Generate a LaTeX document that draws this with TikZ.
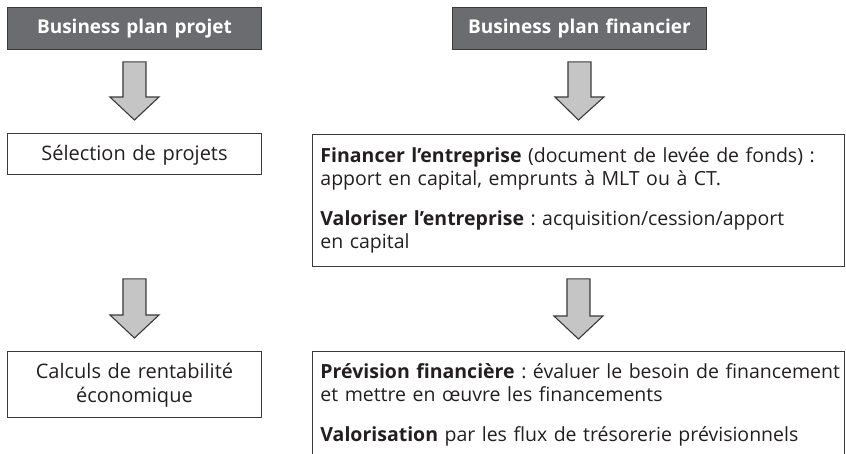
\documentclass[tikz,border=0pt]{standalone}
\usepackage{fontspec}
\setmainfont{Open Sans}
\usetikzlibrary{calc}
\frenchspacing

\definecolor{headfill}{HTML}{6B6C70}
\definecolor{edgegray}{HTML}{3A3A3A}
\definecolor{arrowgray}{HTML}{C5C5C5}
\definecolor{ink}{HTML}{231F20}

% Block arrow pointing down: shaft from #1 (top centre) to the head, tip at #2
\newcommand{\flowarrow}[2]{%
  \filldraw[flowarrow] let \p1=(#1), \p2=(#2) in
    (\x1-11.5pt,\y1) -- (\x1+11.5pt,\y1) -- (\x1+11.5pt,\y2+23pt)
    -- (\x1+24.5pt,\y2+23pt) -- (\x2,\y2) -- (\x1-24.5pt,\y2+23pt)
    -- (\x1-11.5pt,\y2+23pt) -- cycle;}

\tikzset{
  header/.style={draw=edgegray, line width=0.9pt, fill=headfill, text=white,
    font=\bfseries\fontsize{19}{23}\selectfont, anchor=north west,
    inner xsep=0pt, inner ysep=0pt, text width=254pt, align=center,
    text height=26pt, text depth=16pt},
  leftbox/.style={draw=edgegray, line width=0.9pt, text=ink,
    font=\fontsize{20}{24}\selectfont, anchor=north west,
    inner xsep=0pt, inner ysep=0pt, text width=254pt, align=center},
  rightbox/.style={draw=edgegray, line width=0.9pt, text=ink,
    font=\fontsize{19.5}{23}\selectfont, anchor=north west,
    inner xsep=8pt, inner ysep=0pt, text width=516pt, align=left},
  flowarrow/.style={fill=arrowgray, draw=edgegray, line width=1.1pt, line join=miter},
}

\begin{document}
\begin{tikzpicture}[x=1pt, y=-1pt]
\useasboundingbox (0,0) rectangle (846,453);
\clip (0,0) rectangle (846,453);

% column headers
\node[header] (h1) at (7,7) {Business plan projet};
\node[header] (h2) at (452,7) {Business plan financier};

% first row
\node[leftbox, text height=27pt, text depth=14pt] (sel) at (7,133) {Sélection de projets};
\node[rightbox, text height=28pt, text depth=104pt] (fin) at (312,134)
  {\mbox{\textbf{Financer l’entreprise} (document de levée de fonds) :}\\
   \mbox{apport en capital, emprunts à MLT ou à CT.}\\[17pt]
   \mbox{\textbf{Valoriser l’entreprise} : acquisition/cession/apport}\\
   \mbox{en capital}};

% second row
\node[leftbox, text height=27pt, text depth=39pt] (calc) at (7,351)
  {Calculs de rentabilité\\économique};
\node[rightbox, text height=27pt, text depth=150pt] (prev) at (312,351)
  {\mbox{\textbf{Prévision financière} : évaluer le besoin de financement}\\
   \mbox{et mettre en œuvre les financements}\\[17pt]
   \mbox{\textbf{Valorisation} par les flux de trésorerie prévisionnels}};

% arrows between the rows
\flowarrow{$(h1.south)+(0,12)$}{$(sel.north)+(0,-13)$}
\flowarrow{$(h2.south)+(0,12)$}{$(fin.north)+(0,-14)$}
\flowarrow{$(sel.south |- fin.south)+(0,12)$}{$(calc.north)+(0,-13)$}
\flowarrow{$(fin.south)+(0,12)$}{$(prev.north)+(0,-12)$}
\end{tikzpicture}
\end{document}
